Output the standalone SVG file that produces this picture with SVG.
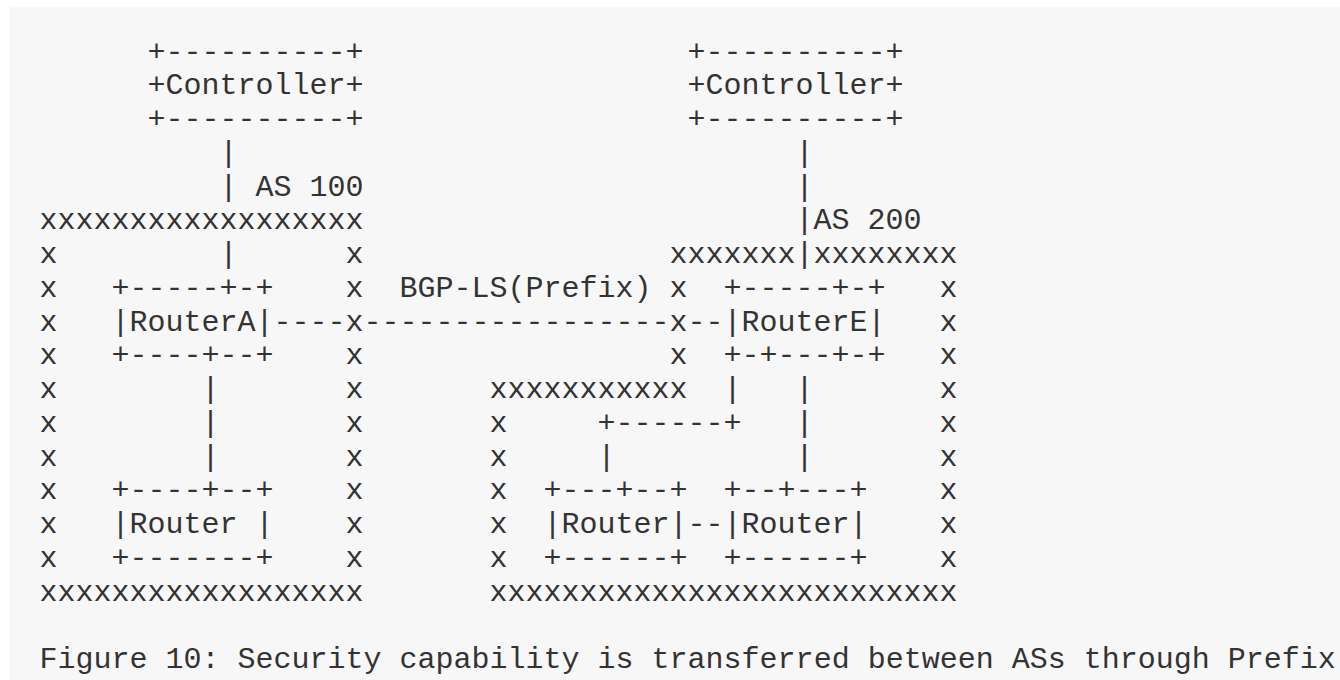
<svg xmlns="http://www.w3.org/2000/svg" width="1340" height="680" viewBox="0 0 1340 680" xml:space="preserve">
<style>
text{font-family:"Liberation Mono","DejaVu Sans Mono",monospace;font-size:30px;fill:#333;white-space:pre}
</style>
<rect x="0" y="0" width="1340" height="680" fill="#ffffff"/>
<rect x="10" y="7" width="1330" height="673" fill="#f7f7f7"/>
<g id="connectors">
<text x="219.5" y="161.75">|</text>
<text x="219.5" y="195.5">|</text>
<text x="219.5" y="263">|</text>
<text x="795.5" y="161.75">|</text>
<text x="795.5" y="195.5">|</text>
<text x="795.5" y="229.25">|</text>
<text x="795.5" y="263">|</text>
<text x="273.5" y="330.5">----</text>
<text x="363.5" y="330.5">-----------------</text>
<text x="687.5" y="330.5">--</text>
<text x="399.5" y="296.75">BGP-LS(Prefix)</text>
<text x="201.5" y="398">|</text>
<text x="201.5" y="431.75">|</text>
<text x="201.5" y="465.5">|</text>
<text x="723.5" y="398">|</text>
<text x="795.5" y="398">|</text>
<text x="795.5" y="431.75">|</text>
<text x="795.5" y="465.5">|</text>
<text x="597.5" y="431.75">+------+</text>
<text x="597.5" y="465.5">|</text>
<text x="687.5" y="533">--</text>
</g>
<g id="controller-left">
<text x="147.5" y="60.5">+----------+</text>
<text x="147.5" y="94.25">+Controller+</text>
<text x="147.5" y="128">+----------+</text>
</g>
<g id="controller-right">
<text x="687.5" y="60.5">+----------+</text>
<text x="687.5" y="94.25">+Controller+</text>
<text x="687.5" y="128">+----------+</text>
</g>
<g id="as100">
<text x="255.5" y="195.5">AS 100</text>
<text x="39.5" y="229.25">xxxxxxxxxxxxxxxxxx</text>
<text x="39.5" y="263">x</text><text x="345.5" y="263">x</text>
<text x="39.5" y="296.75">x</text><text x="345.5" y="296.75">x</text>
<text x="39.5" y="330.5">x</text><text x="345.5" y="330.5">x</text>
<text x="39.5" y="364.25">x</text><text x="345.5" y="364.25">x</text>
<text x="39.5" y="398">x</text><text x="345.5" y="398">x</text>
<text x="39.5" y="431.75">x</text><text x="345.5" y="431.75">x</text>
<text x="39.5" y="465.5">x</text><text x="345.5" y="465.5">x</text>
<text x="39.5" y="499.25">x</text><text x="345.5" y="499.25">x</text>
<text x="39.5" y="533">x</text><text x="345.5" y="533">x</text>
<text x="39.5" y="566.75">x</text><text x="345.5" y="566.75">x</text>
<text x="39.5" y="600.5">xxxxxxxxxxxxxxxxxx</text>
</g>
<g id="as200">
<text x="813.5" y="229.25">AS 200</text>
<text x="669.5" y="263">xxxxxxx</text>
<text x="813.5" y="263">xxxxxxxx</text>
<text x="669.5" y="296.75">x</text><text x="939.5" y="296.75">x</text>
<text x="669.5" y="330.5">x</text><text x="939.5" y="330.5">x</text>
<text x="669.5" y="364.25">x</text><text x="939.5" y="364.25">x</text>
<text x="489.5" y="398">xxxxxxxxxxx</text>
<text x="939.5" y="398">x</text>
<text x="489.5" y="431.75">x</text><text x="939.5" y="431.75">x</text>
<text x="489.5" y="465.5">x</text><text x="939.5" y="465.5">x</text>
<text x="489.5" y="499.25">x</text><text x="939.5" y="499.25">x</text>
<text x="489.5" y="533">x</text><text x="939.5" y="533">x</text>
<text x="489.5" y="566.75">x</text><text x="939.5" y="566.75">x</text>
<text x="489.5" y="600.5">xxxxxxxxxxxxxxxxxxxxxxxxxx</text>
</g>
<g id="routerA">
<text x="111.5" y="296.75">+-----+-+</text>
<text x="111.5" y="330.5">|RouterA|</text>
<text x="111.5" y="364.25">+----+--+</text>
</g>
<g id="routerE">
<text x="723.5" y="296.75">+-----+-+</text>
<text x="723.5" y="330.5">|RouterE|</text>
<text x="723.5" y="364.25">+-+---+-+</text>
</g>
<g id="router-as100">
<text x="111.5" y="499.25">+----+--+</text>
<text x="111.5" y="533">|Router |</text>
<text x="111.5" y="566.75">+-------+</text>
</g>
<g id="router-as200-1">
<text x="543.5" y="499.25">+---+--+</text>
<text x="543.5" y="533">|Router|</text>
<text x="543.5" y="566.75">+------+</text>
</g>
<g id="router-as200-2">
<text x="723.5" y="499.25">+--+---+</text>
<text x="723.5" y="533">|Router|</text>
<text x="723.5" y="566.75">+------+</text>
</g>
<g id="caption">
<text x="39.5" y="668">Figure 10: Security capability is transferred between ASs through Prefix</text>
</g>
</svg>
